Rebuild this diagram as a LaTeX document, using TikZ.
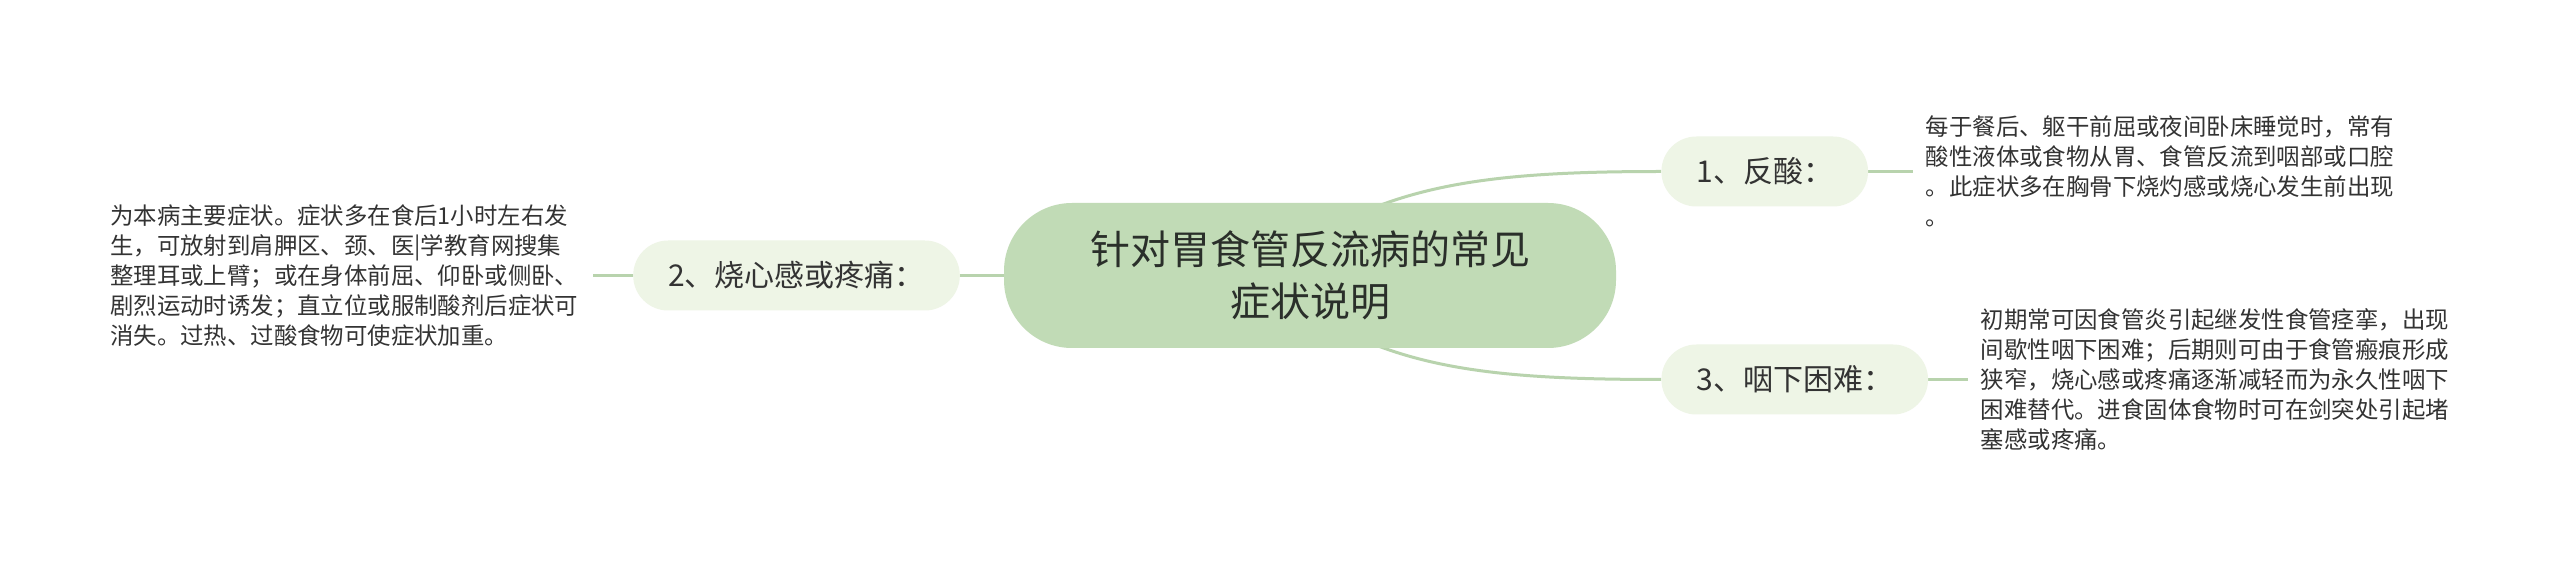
\documentclass[tikz,border=0pt]{standalone}
\usepackage{fontspec}
\setmainfont{Noto Sans CJK SC}
\usetikzlibrary{calc,backgrounds}
\definecolor{rootfill}{HTML}{C1DBB6}
\definecolor{subfill}{HTML}{EEF5E6}
\definecolor{linec}{HTML}{B8D3AD}
\definecolor{txt}{HTML}{333333}
\definecolor{roottxt}{HTML}{2A2F2A}
\tikzset{
  rootbox/.style={fill=rootfill, rounded corners=34pt, minimum width=306pt,
    minimum height=72.5pt, inner sep=0pt, align=center, text=roottxt,
    font=\fontsize{20pt}{26pt}\selectfont},
  subbox/.style={fill=subfill, rounded corners=17.5pt, minimum height=35pt,
    inner xsep=17.5pt, inner ysep=0pt, text=txt,
    font=\fontsize{15pt}{18pt}\selectfont},
  descbox/.style={text width=235pt, align=left, inner xsep=6pt, inner ysep=0pt,
    text=txt, font=\fontsize{11.7pt}{15pt}\selectfont},
  conn/.style={draw=linec, line width=1.5pt}
}
\begin{document}
\begin{tikzpicture}[x=0.5pt, y=-0.5pt]
\useasboundingbox (0,0) rectangle (2560,566);

\node[rootbox] (root) at (1310,275.5) {针对胃食管反流病的常见\\症状说明};

\node[subbox, anchor=west] (n1) at (1661,171.5) {1、反酸：};
\node[subbox] (n2) at (796.5,275.5) {2、烧心感或疼痛：};
\node[subbox, anchor=west] (n3) at (1661,379.5) {3、咽下困难：};

\node[descbox, anchor=west] (d1) at ($(n1.east)+(45,0)$) {每于餐后、躯干前屈或夜间卧床睡觉时，常有\\酸性液体或食物从胃、食管反流到咽部或口腔\\。此症状多在胸骨下烧灼感或烧心发生前出现\\。};
\node[descbox, anchor=east] (d2) at ($(n2.west)+(-40,0)$) {为本病主要症状。症状多在食后1小时左右发\\生，可放射到肩胛区、颈、医|学教育网搜集\\整理耳或上臂；或在身体前屈、仰卧或侧卧、\\剧烈运动时诱发；直立位或服制酸剂后症状可\\消失。过热、过酸食物可使症状加重。};
\node[descbox, anchor=west] (d3) at ($(n3.east)+(40,0)$) {初期常可因食管炎引起继发性食管痉挛，出现\\间歇性咽下困难；后期则可由于食管瘢痕形成\\狭窄，烧心感或疼痛逐渐减轻而为永久性咽下\\困难替代。进食固体食物时可在剑突处引起堵\\塞感或疼痛。};

\coordinate (r1) at ($(root.center)+(40,-57.5)$);
\coordinate (r3) at ($(root.center)+(40,58.5)$);

\begin{scope}[on background layer]
  \fill[white] (0,0) rectangle (2560,566);
  \draw[conn] (r1) .. controls (1430,180) and (1520,171.5) .. (n1.west);
  \draw[conn] (r3) .. controls (1430,372) and (1520,379.5) .. (n3.west);
  \draw[conn] (root.west) -- (n2.east);
  \draw[conn] (n1.east) -- (d1.west);
  \draw[conn] (n3.east) -- (d3.west);
  \draw[conn] (n2.west) -- (d2.east);
\end{scope}
\end{tikzpicture}
\end{document}
